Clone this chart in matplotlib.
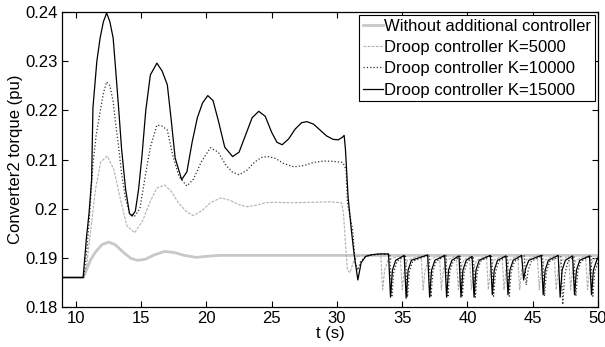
import matplotlib
matplotlib.use('Agg')
import matplotlib.pyplot as plt

plt.rcParams['font.family'] = ['Liberation Sans', 'DejaVu Sans']

# ---- data (t in s, torque in pu) ----
t_base = [9, 10.55, 10.8, 11.1, 11.5, 12.0, 12.5, 13.0, 13.6, 14.2, 14.7, 15.3,
          16.0, 16.8, 17.5, 18.3, 19.2, 20.0, 21.0, 30.0, 40.0, 50.0]
y_base = [0.186, 0.186, 0.1875, 0.1895, 0.1912, 0.1927, 0.1932, 0.1927, 0.1912,
          0.1899, 0.1895, 0.1897, 0.1906, 0.1913, 0.1911, 0.1905, 0.1901, 0.1903,
          0.1905, 0.1905, 0.1905, 0.1905]

t_k5 = [9, 10.6, 10.8, 11.1, 11.5, 11.9, 12.4, 12.9, 13.4, 13.9, 14.5, 15.1, 15.7,
        16.2, 16.8, 17.3, 17.9, 18.5, 19.0, 19.6, 20.3, 21.1, 21.8, 22.5, 23.1,
        23.8, 24.5, 25.2, 26.5, 28.0, 29.5, 30.35, 30.5, 30.65, 30.8, 31.0, 31.3,
        31.6, 32.0, 32.5, 33.35,
        33.5, 33.65, 33.9, 34.85,
        35.0, 35.15, 35.4, 36.45,
        36.6, 36.75, 37.0, 37.85,
        38.0, 38.15, 38.4, 39.15,
        39.3, 39.45, 39.7, 40.15,
        40.3, 40.45, 40.7, 41.45,
        41.6, 41.75, 42.0, 42.65,
        42.8, 42.95, 43.2, 43.85,
        44.0, 44.15, 44.4, 45.35,
        45.5, 45.65, 45.9, 46.65,
        46.8, 46.95, 47.2, 47.75,
        47.9, 48.05, 48.3, 49.05,
        49.2, 49.35, 49.6, 50.0]
y_k5 = [0.186, 0.186, 0.188, 0.195, 0.204, 0.2095, 0.2107, 0.208, 0.202, 0.1965,
        0.1951, 0.1975, 0.2015, 0.2042, 0.2048, 0.2035, 0.201, 0.1993, 0.1986,
        0.1995, 0.2012, 0.2022, 0.2017, 0.2008, 0.2004, 0.2007, 0.2012, 0.2013,
        0.2012, 0.2013, 0.2014, 0.2012, 0.199, 0.193, 0.1875, 0.187, 0.1895,
        0.1903, 0.1905, 0.1906, 0.1906,
        0.1835, 0.1875, 0.1895, 0.1905,
        0.1835, 0.1875, 0.1895, 0.1905,
        0.1835, 0.1875, 0.1895, 0.1905,
        0.1835, 0.1875, 0.1895, 0.1904,
        0.1835, 0.1875, 0.1895, 0.1903,
        0.1835, 0.1875, 0.1895, 0.1904,
        0.1835, 0.1875, 0.1895, 0.1904,
        0.1835, 0.1875, 0.1895, 0.1904,
        0.1835, 0.1875, 0.1895, 0.1905,
        0.1835, 0.1875, 0.1895, 0.1904,
        0.1835, 0.1875, 0.1895, 0.1903,
        0.1835, 0.1875, 0.1895, 0.1904,
        0.1835, 0.1875, 0.1895, 0.1903]

t_k10 = [9, 10.6, 10.85, 11.05, 11.3, 11.55, 11.85, 12.1, 12.35, 12.6, 12.85, 13.05,
         13.25, 13.5, 13.8, 14.1, 14.5, 14.9, 15.3, 15.7, 16.2, 16.6, 17.0, 17.4,
         17.9, 18.5, 19.0, 19.6, 20.3, 20.9, 21.5, 22.0, 22.5, 23.1, 23.7, 24.2,
         24.7, 25.3, 25.9, 26.7, 27.5, 28.2, 29.0, 29.8, 30.45, 30.7, 30.8, 31.2,
         31.4, 31.6, 31.8, 32.1, 32.5, 33.2, 34.05,
         34.2, 34.35, 34.6, 35.25,
         35.4, 35.55, 35.8, 37.05,
         37.2, 37.35, 37.6, 38.35,
         38.5, 38.65, 38.9, 39.45,
         39.6, 39.75, 40.0, 40.45,
         40.6, 40.75, 41.0, 41.85,
         42.0, 42.15, 42.4, 43.05,
         43.2, 43.35, 43.6, 44.35,
         44.5, 44.65, 44.9, 45.75,
         45.9, 46.05, 46.3, 47.15,
         47.3, 47.45, 47.7, 48.15,
         48.3, 48.45, 48.7, 49.45,
         49.6, 49.75, 50.0]
y_k10 = [0.186, 0.186, 0.192, 0.199, 0.209, 0.215, 0.2197, 0.2235, 0.2258, 0.225,
         0.2218, 0.217, 0.213, 0.207, 0.202, 0.1992, 0.1985, 0.2, 0.2065, 0.2125,
         0.217, 0.2168, 0.216, 0.211, 0.2065, 0.2046, 0.206, 0.2095, 0.2124,
         0.2115, 0.2088, 0.2074, 0.2069, 0.2078, 0.2095, 0.2104, 0.2106, 0.2102,
         0.2092, 0.2085, 0.2088, 0.2094, 0.2097, 0.2096, 0.2094, 0.2079, 0.2012,
         0.1957, 0.189, 0.1875, 0.1892, 0.1901, 0.1905, 0.1907, 0.1907,
         0.182, 0.1872, 0.1893, 0.1905,
         0.182, 0.1872, 0.1893, 0.1906,
         0.182, 0.1872, 0.1893, 0.1905,
         0.182, 0.1872, 0.1893, 0.1903,
         0.182, 0.1872, 0.1893, 0.1902,
         0.182, 0.1872, 0.1893, 0.1905,
         0.1822, 0.1872, 0.1893, 0.1904,
         0.1822, 0.1872, 0.1893, 0.1904,
         0.1845, 0.1875, 0.1893, 0.1905,
         0.1822, 0.1872, 0.1893, 0.1904,
         0.1805, 0.1865, 0.1893, 0.1902,
         0.1822, 0.1872, 0.1893, 0.1904,
         0.1822, 0.1872, 0.1890]

t_k15 = [9, 10.55, 10.8, 11.0, 11.2, 11.3, 11.6, 11.85, 12.1, 12.35, 12.6, 12.85,
         13.05, 13.25, 13.5, 13.8, 14.1, 14.3, 14.55, 14.8, 15.05, 15.35, 15.7,
         16.2, 16.6, 17.0, 17.3, 17.6, 18.1, 18.5, 18.9, 19.3, 19.7, 20.1, 20.5,
         20.9, 21.4, 22.0, 22.5, 23.0, 23.5, 24.0, 24.5, 25.0, 25.4, 25.8, 26.3,
         26.8, 27.3, 27.7, 28.2, 28.7, 29.2, 29.7, 30.1, 30.4, 30.55, 30.65,
         30.85, 31.1, 31.3, 31.6, 31.85, 32.2, 32.6, 33.2, 33.95,
         34.1, 34.25, 34.5, 35.15,
         35.3, 35.45, 35.7, 36.95,
         37.1, 37.25, 37.5, 38.25,
         38.4, 38.55, 38.8, 39.35,
         39.5, 39.65, 39.9, 40.35,
         40.5, 40.65, 40.9, 41.75,
         41.9, 42.05, 42.3, 42.95,
         43.1, 43.25, 43.5, 44.15,
         44.3, 44.45, 44.7, 45.65,
         45.8, 45.95, 46.2, 46.95,
         47.1, 47.25, 47.5, 48.05,
         48.2, 48.35, 48.6, 49.35,
         49.5, 49.65, 49.9, 50.0]
y_k15 = [0.186, 0.186, 0.194, 0.199, 0.206, 0.2205, 0.23, 0.2347, 0.238, 0.2398,
         0.238, 0.2347, 0.228, 0.2211, 0.212, 0.204, 0.199, 0.1985, 0.1995,
         0.204, 0.2105, 0.22, 0.2272, 0.2296, 0.228, 0.2252, 0.218, 0.2103,
         0.2059, 0.2075, 0.2135, 0.2185, 0.2215, 0.223, 0.222, 0.218, 0.2125,
         0.2106, 0.2115, 0.215, 0.2185, 0.2198, 0.2188, 0.2155, 0.2135, 0.213,
         0.2142, 0.2162, 0.2175, 0.2177, 0.2172, 0.216, 0.2148, 0.2141, 0.214,
         0.2145, 0.2149, 0.212, 0.2024, 0.1957, 0.191, 0.1855, 0.189, 0.1903,
         0.1906, 0.1908, 0.1908,
         0.182, 0.1875, 0.1895, 0.1905,
         0.1818, 0.1875, 0.1895, 0.1906,
         0.182, 0.1875, 0.1895, 0.1905,
         0.182, 0.1875, 0.1895, 0.1904,
         0.182, 0.1875, 0.1895, 0.1903,
         0.182, 0.1875, 0.1895, 0.1905,
         0.1825, 0.1875, 0.1895, 0.1904,
         0.1825, 0.1875, 0.1895, 0.1905,
         0.1855, 0.1878, 0.1895, 0.1905,
         0.1825, 0.1875, 0.1895, 0.1905,
         0.182, 0.1875, 0.1895, 0.1904,
         0.1825, 0.1875, 0.1895, 0.1904,
         0.1825, 0.1875, 0.1895, 0.1900]

labels = ['Without additional controller', 'Droop controller K=5000',
          'Droop controller K=10000', 'Droop controller K=15000']
yticks = [0.18, 0.19, 0.20, 0.21, 0.22, 0.23, 0.24]
yticklabels = ['0.18', '0.19', '0.2', '0.21', '0.22', '0.23', '0.24']
xticks = [10, 15, 20, 25, 30, 35, 40, 45, 50]

fig = plt.figure(figsize=(6.05, 3.47), dpi=100)
ax = fig.add_axes([62/605., 1-307/347., (598-62)/605., (307-12)/347.])

ax.plot(t_base, y_base, '-', color='#c8c8c8', lw=2.0, label=labels[0])
ax.plot(t_k5, y_k5, '--', color='#b0b0b0', lw=0.8, dashes=(2.5, 1.2), label=labels[1])
ax.plot(t_k10, y_k10, ':', color='#303030', lw=0.9, label=labels[2])
ax.plot(t_k15, y_k15, '-', color='#000000', lw=0.9, label=labels[3])

ax.set_xlim(8.93, 50)
ax.set_ylim(0.18, 0.24)
ax.set_xticks(xticks)
ax.set_yticks(yticks)
ax.set_yticklabels(yticklabels)
ax.tick_params(direction='in', top=True, right=True, length=4, width=0.8,
               labelsize=12, pad=3)
for s in ax.spines.values():
    s.set_linewidth(0.9)

ax.set_xlabel('t (s)', fontsize=12, labelpad=0)
ax.set_ylabel('Converter2 torque (pu)', fontsize=12, labelpad=2)

leg = ax.legend(loc='upper right', fontsize=12, fancybox=False, framealpha=1,
                edgecolor='black', borderaxespad=0.2, borderpad=0.2,
                handlelength=1.2, handletextpad=0.1, labelspacing=0.38)
leg.get_frame().set_linewidth(0.8)

fig.savefig('out.png', dpi=100)
